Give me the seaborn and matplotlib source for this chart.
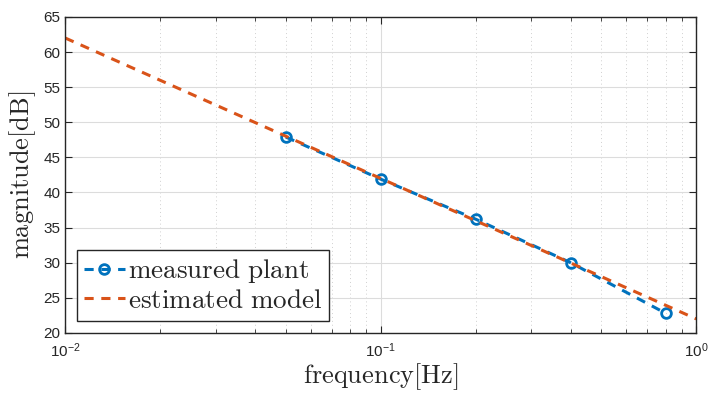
import numpy as np
import pandas as pd
import seaborn as sns
import matplotlib.pyplot as plt

# measured plant (frequency in Hz, magnitude in dB)
meas_freq = [0.05, 0.1, 0.2, 0.4, 0.8]
meas_mag = [47.9, 41.9, 36.2, 30.0, 22.8]

# estimated model
model_freq = [0.01, 0.1, 1.0]
model_mag = [62.0, 42.0, 22.0]

blue = "#0072BD"
orange = "#D95319"

sns.set_style("ticks")
plt.rcParams["font.family"] = ["Liberation Sans", "DejaVu Sans"]
plt.rcParams["mathtext.fontset"] = "cm"

meas = pd.DataFrame({"freq": meas_freq, "mag": meas_mag})
model = pd.DataFrame({"freq": model_freq, "mag": model_mag})

fig, ax = plt.subplots(figsize=(7.09, 3.94), dpi=100)
sns.lineplot(data=meas, x="freq", y="mag", ax=ax, color=blue, lw=2.2,
             linestyle=(0, (3, 2.5)), marker="o", markersize=7,
             markerfacecolor="none", markeredgecolor=blue, markeredgewidth=2,
             label=r"$\mathrm{measured\ plant}$")
sns.lineplot(data=model, x="freq", y="mag", ax=ax, color=orange, lw=2.2,
             linestyle=(0, (3, 2.5)), label=r"$\mathrm{estimated\ model}$")

ax.set_xscale("log")
ax.set_xlim(0.01, 1)
ax.set_ylim(20, 65)
ax.set_yticks(range(20, 66, 5))
ax.grid(True, which="major", color="#dcdcdc", lw=0.8)
ax.grid(True, which="minor", axis="x", color="#d0d0d0", lw=0.7,
        linestyle=(0, (1, 3)))
ax.set_axisbelow(True)
ax.tick_params(which="both", direction="in", top=True, right=True,
               labelsize=11, colors="#262626")
ax.tick_params(which="major", length=5)
ax.tick_params(which="minor", length=3)
ax.tick_params(axis="x", which="major", pad=6)
for s in ax.spines.values():
    s.set_color("#262626")
    s.set_linewidth(1)

ax.set_xlabel(r"$\mathrm{frequency[Hz]}$", fontsize=19, labelpad=1)
ax.set_ylabel(r"$\mathrm{magnitude[dB]}$", fontsize=19)

leg = ax.legend(loc="lower left", fontsize=19.5, fancybox=False, framealpha=1,
                edgecolor="#262626", handlelength=1.5, handletextpad=0.1,
                borderpad=0.25, labelspacing=0.1, borderaxespad=0.45)
leg.get_frame().set_linewidth(1)

plt.subplots_adjust(left=0.092, right=0.982, top=0.957, bottom=0.155)
plt.savefig("out.png", dpi=100)
